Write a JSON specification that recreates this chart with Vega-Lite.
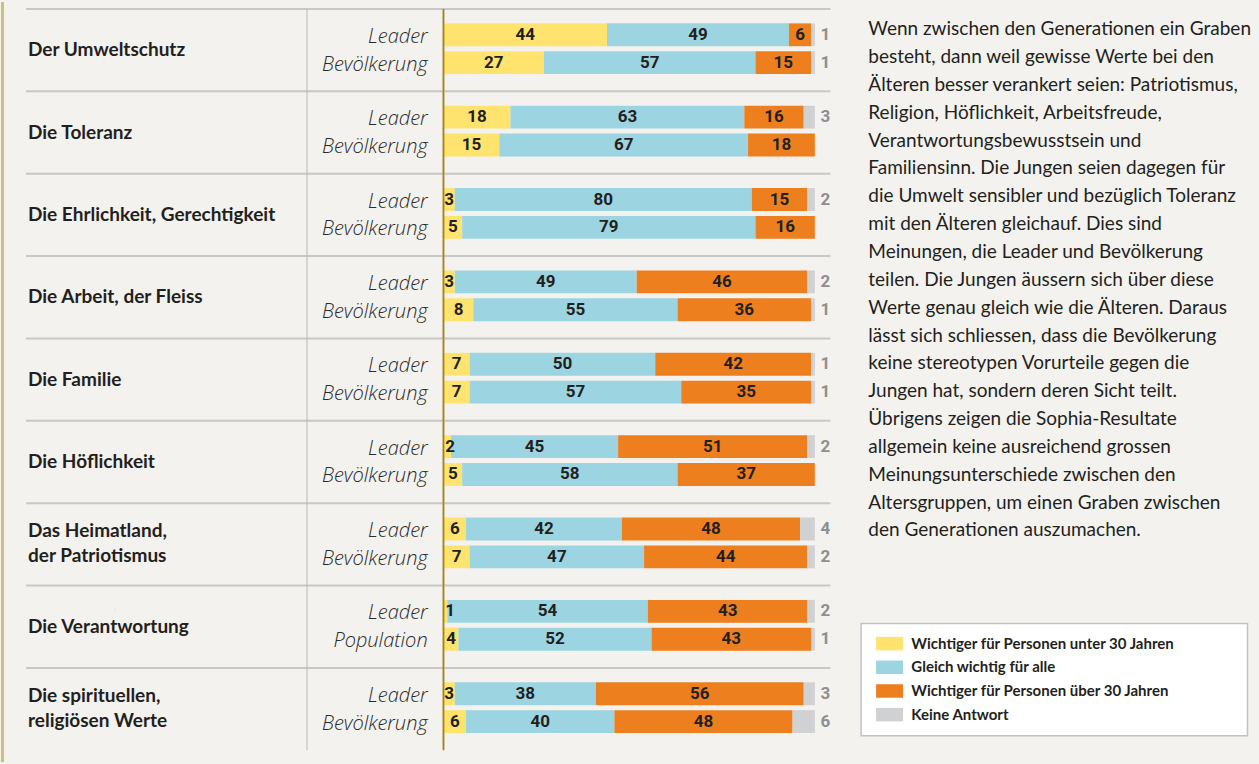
{
  "$schema": "https://vega.github.io/schema/vega-lite/v6.json",
  "width": 1259,
  "height": 764,
  "autosize": {"type": "fit", "contains": "padding"},
  "padding": 0,
  "background": "#f3f2ee",
  "config": {"view": {"stroke": null}},
  "datasets": {
    "cats": [
      {"cat": "Der Umweltschutz"},
      {"cat": "Die Toleranz"},
      {"cat": "Die Ehrlichkeit, Gerechtigkeit"},
      {"cat": "Die Arbeit, der Fleiss"},
      {"cat": "Die Familie"},
      {"cat": "Die Höflichkeit"},
      {"cat": "Das Heimatland,\nder Patriotismus"},
      {"cat": "Die Verantwortung"},
      {"cat": "Die spirituellen,\nreligiösen Werte"}
    ],
    "rows": [
      {"cat": "Der Umweltschutz", "grp": "L", "lab": "Leader"},
      {"cat": "Der Umweltschutz", "grp": "B", "lab": "Bevölkerung"},
      {"cat": "Die Toleranz", "grp": "L", "lab": "Leader"},
      {"cat": "Die Toleranz", "grp": "B", "lab": "Bevölkerung"},
      {"cat": "Die Ehrlichkeit, Gerechtigkeit", "grp": "L", "lab": "Leader"},
      {"cat": "Die Ehrlichkeit, Gerechtigkeit", "grp": "B", "lab": "Bevölkerung"},
      {"cat": "Die Arbeit, der Fleiss", "grp": "L", "lab": "Leader"},
      {"cat": "Die Arbeit, der Fleiss", "grp": "B", "lab": "Bevölkerung"},
      {"cat": "Die Familie", "grp": "L", "lab": "Leader"},
      {"cat": "Die Familie", "grp": "B", "lab": "Bevölkerung"},
      {"cat": "Die Höflichkeit", "grp": "L", "lab": "Leader"},
      {"cat": "Die Höflichkeit", "grp": "B", "lab": "Bevölkerung"},
      {"cat": "Das Heimatland,\nder Patriotismus", "grp": "L", "lab": "Leader"},
      {"cat": "Das Heimatland,\nder Patriotismus", "grp": "B", "lab": "Bevölkerung"},
      {"cat": "Die Verantwortung", "grp": "L", "lab": "Leader"},
      {"cat": "Die Verantwortung", "grp": "B", "lab": "Population"},
      {"cat": "Die spirituellen,\nreligiösen Werte", "grp": "L", "lab": "Leader"},
      {"cat": "Die spirituellen,\nreligiösen Werte", "grp": "B", "lab": "Bevölkerung"}
    ],
    "bars": [
      {"cat": "Der Umweltschutz", "grp": "L", "k": 1, "value": 44},
      {"cat": "Der Umweltschutz", "grp": "L", "k": 2, "value": 49},
      {"cat": "Der Umweltschutz", "grp": "L", "k": 3, "value": 6},
      {"cat": "Der Umweltschutz", "grp": "L", "k": 4, "value": 1},
      {"cat": "Der Umweltschutz", "grp": "B", "k": 1, "value": 27},
      {"cat": "Der Umweltschutz", "grp": "B", "k": 2, "value": 57},
      {"cat": "Der Umweltschutz", "grp": "B", "k": 3, "value": 15},
      {"cat": "Der Umweltschutz", "grp": "B", "k": 4, "value": 1},
      {"cat": "Die Toleranz", "grp": "L", "k": 1, "value": 18},
      {"cat": "Die Toleranz", "grp": "L", "k": 2, "value": 63},
      {"cat": "Die Toleranz", "grp": "L", "k": 3, "value": 16},
      {"cat": "Die Toleranz", "grp": "L", "k": 4, "value": 3},
      {"cat": "Die Toleranz", "grp": "B", "k": 1, "value": 15},
      {"cat": "Die Toleranz", "grp": "B", "k": 2, "value": 67},
      {"cat": "Die Toleranz", "grp": "B", "k": 3, "value": 18},
      {"cat": "Die Toleranz", "grp": "B", "k": 4, "value": 0},
      {"cat": "Die Ehrlichkeit, Gerechtigkeit", "grp": "L", "k": 1, "value": 3},
      {"cat": "Die Ehrlichkeit, Gerechtigkeit", "grp": "L", "k": 2, "value": 80},
      {"cat": "Die Ehrlichkeit, Gerechtigkeit", "grp": "L", "k": 3, "value": 15},
      {"cat": "Die Ehrlichkeit, Gerechtigkeit", "grp": "L", "k": 4, "value": 2},
      {"cat": "Die Ehrlichkeit, Gerechtigkeit", "grp": "B", "k": 1, "value": 5},
      {"cat": "Die Ehrlichkeit, Gerechtigkeit", "grp": "B", "k": 2, "value": 79},
      {"cat": "Die Ehrlichkeit, Gerechtigkeit", "grp": "B", "k": 3, "value": 16},
      {"cat": "Die Ehrlichkeit, Gerechtigkeit", "grp": "B", "k": 4, "value": 0},
      {"cat": "Die Arbeit, der Fleiss", "grp": "L", "k": 1, "value": 3},
      {"cat": "Die Arbeit, der Fleiss", "grp": "L", "k": 2, "value": 49},
      {"cat": "Die Arbeit, der Fleiss", "grp": "L", "k": 3, "value": 46},
      {"cat": "Die Arbeit, der Fleiss", "grp": "L", "k": 4, "value": 2},
      {"cat": "Die Arbeit, der Fleiss", "grp": "B", "k": 1, "value": 8},
      {"cat": "Die Arbeit, der Fleiss", "grp": "B", "k": 2, "value": 55},
      {"cat": "Die Arbeit, der Fleiss", "grp": "B", "k": 3, "value": 36},
      {"cat": "Die Arbeit, der Fleiss", "grp": "B", "k": 4, "value": 1},
      {"cat": "Die Familie", "grp": "L", "k": 1, "value": 7},
      {"cat": "Die Familie", "grp": "L", "k": 2, "value": 50},
      {"cat": "Die Familie", "grp": "L", "k": 3, "value": 42},
      {"cat": "Die Familie", "grp": "L", "k": 4, "value": 1},
      {"cat": "Die Familie", "grp": "B", "k": 1, "value": 7},
      {"cat": "Die Familie", "grp": "B", "k": 2, "value": 57},
      {"cat": "Die Familie", "grp": "B", "k": 3, "value": 35},
      {"cat": "Die Familie", "grp": "B", "k": 4, "value": 1},
      {"cat": "Die Höflichkeit", "grp": "L", "k": 1, "value": 2},
      {"cat": "Die Höflichkeit", "grp": "L", "k": 2, "value": 45},
      {"cat": "Die Höflichkeit", "grp": "L", "k": 3, "value": 51},
      {"cat": "Die Höflichkeit", "grp": "L", "k": 4, "value": 2},
      {"cat": "Die Höflichkeit", "grp": "B", "k": 1, "value": 5},
      {"cat": "Die Höflichkeit", "grp": "B", "k": 2, "value": 58},
      {"cat": "Die Höflichkeit", "grp": "B", "k": 3, "value": 37},
      {"cat": "Die Höflichkeit", "grp": "B", "k": 4, "value": 0},
      {"cat": "Das Heimatland,\nder Patriotismus", "grp": "L", "k": 1, "value": 6},
      {"cat": "Das Heimatland,\nder Patriotismus", "grp": "L", "k": 2, "value": 42},
      {"cat": "Das Heimatland,\nder Patriotismus", "grp": "L", "k": 3, "value": 48},
      {"cat": "Das Heimatland,\nder Patriotismus", "grp": "L", "k": 4, "value": 4},
      {"cat": "Das Heimatland,\nder Patriotismus", "grp": "B", "k": 1, "value": 7},
      {"cat": "Das Heimatland,\nder Patriotismus", "grp": "B", "k": 2, "value": 47},
      {"cat": "Das Heimatland,\nder Patriotismus", "grp": "B", "k": 3, "value": 44},
      {"cat": "Das Heimatland,\nder Patriotismus", "grp": "B", "k": 4, "value": 2},
      {"cat": "Die Verantwortung", "grp": "L", "k": 1, "value": 1},
      {"cat": "Die Verantwortung", "grp": "L", "k": 2, "value": 54},
      {"cat": "Die Verantwortung", "grp": "L", "k": 3, "value": 43},
      {"cat": "Die Verantwortung", "grp": "L", "k": 4, "value": 2},
      {"cat": "Die Verantwortung", "grp": "B", "k": 1, "value": 4},
      {"cat": "Die Verantwortung", "grp": "B", "k": 2, "value": 52},
      {"cat": "Die Verantwortung", "grp": "B", "k": 3, "value": 43},
      {"cat": "Die Verantwortung", "grp": "B", "k": 4, "value": 1},
      {"cat": "Die spirituellen,\nreligiösen Werte", "grp": "L", "k": 1, "value": 3},
      {"cat": "Die spirituellen,\nreligiösen Werte", "grp": "L", "k": 2, "value": 38},
      {"cat": "Die spirituellen,\nreligiösen Werte", "grp": "L", "k": 3, "value": 56},
      {"cat": "Die spirituellen,\nreligiösen Werte", "grp": "L", "k": 4, "value": 3},
      {"cat": "Die spirituellen,\nreligiösen Werte", "grp": "B", "k": 1, "value": 6},
      {"cat": "Die spirituellen,\nreligiösen Werte", "grp": "B", "k": 2, "value": 40},
      {"cat": "Die spirituellen,\nreligiösen Werte", "grp": "B", "k": 3, "value": 48},
      {"cat": "Die spirituellen,\nreligiösen Werte", "grp": "B", "k": 4, "value": 6}
    ],
    "para": [
      {"i": 0, "t": "Wenn zwischen den Generationen ein Graben"},
      {"i": 1, "t": "besteht, dann weil gewisse Werte bei den"},
      {"i": 2, "t": "Älteren besser verankert seien: Patriotismus,"},
      {"i": 3, "t": "Religion, Höflichkeit, Arbeitsfreude,"},
      {"i": 4, "t": "Verantwortungsbewusstsein und"},
      {"i": 5, "t": "Familiensinn. Die Jungen seien dagegen für"},
      {"i": 6, "t": "die Umwelt sensibler und bezüglich Toleranz"},
      {"i": 7, "t": "mit den Älteren gleichauf. Dies sind"},
      {"i": 8, "t": "Meinungen, die Leader und Bevölkerung"},
      {"i": 9, "t": "teilen. Die Jungen äussern sich über diese"},
      {"i": 10, "t": "Werte genau gleich wie die Älteren. Daraus"},
      {"i": 11, "t": "lässt sich schliessen, dass die Bevölkerung"},
      {"i": 12, "t": "keine stereotypen Vorurteile gegen die"},
      {"i": 13, "t": "Jungen hat, sondern deren Sicht teilt."},
      {"i": 14, "t": "Übrigens zeigen die Sophia-Resultate"},
      {"i": 15, "t": "allgemein keine ausreichend grossen"},
      {"i": 16, "t": "Meinungsunterschiede zwischen den"},
      {"i": 17, "t": "Altersgruppen, um einen Graben zwischen"},
      {"i": 18, "t": "den Generationen auszumachen."}
    ],
    "legend": [
      {"k": 1, "label": "Wichtiger für Personen unter 30 Jahren"},
      {"k": 2, "label": "Gleich wichtig für alle"},
      {"k": 3, "label": "Wichtiger für Personen über 30 Jahren"},
      {"k": 4, "label": "Keine Antwort"}
    ]
  },
  "layer": [
    {
      "layer": [
        {
          "data": {"values": [{}]},
          "mark": {"type": "rule", "color": "#cdbf7c", "strokeWidth": 3},
          "encoding": {
            "x": {"datum": -118.85, "type": "quantitative", "scale": {"domain": [-119.25, 219.65], "nice": false, "zero": false}, "axis": null}
          }
        },
        {
          "data": {"name": "cats"},
          "mark": {"type": "rule", "color": "#c8c8c8", "strokeWidth": 2},
          "encoding": {
            "x": {"datum": -112.5, "type": "quantitative", "scale": {"domain": [-119.25, 219.65], "nice": false, "zero": false}, "axis": null},
            "x2": {"datum": 104.2},
            "y": {"field": "cat", "type": "nominal", "bandPosition": 0, "axis": null, "sort": null,
                  "scale": {"domain": ["Der Umweltschutz", "Die Toleranz", "Die Ehrlichkeit, Gerechtigkeit", "Die Arbeit, der Fleiss", "Die Familie", "Die Höflichkeit", "Das Heimatland,\nder Patriotismus", "Die Verantwortung", "Die spirituellen,\nreligiösen Werte"], "paddingInner": 0, "paddingOuter": 0.1135, "align": 0.372}}
          }
        },
        {
          "data": {"name": "cats"},
          "mark": {"type": "bar", "color": "#b8b8b8"},
          "encoding": {
            "x": {"datum": -36.95, "type": "quantitative", "scale": {"domain": [-119.25, 219.65], "nice": false, "zero": false}, "axis": null},
            "x2": {"datum": -36.68},
            "y": {"field": "cat", "type": "nominal", "axis": null, "sort": null}
          }
        },
        {
          "data": {"name": "cats"},
          "transform": [{"filter": "indexof(datum.cat, '\\n') < 0"}],
          "mark": {"type": "text", "align": "left", "baseline": "middle", "font": "Lato", "fontWeight": "bold", "fontSize": 19, "color": "#231f20"},
          "encoding": {
            "x": {"datum": -111.98, "type": "quantitative", "scale": {"domain": [-119.25, 219.65], "nice": false, "zero": false}, "axis": null},
            "y": {"field": "cat", "type": "nominal", "axis": null, "sort": null},
            "text": {"field": "cat"}
          }
        },
        {
          "data": {"name": "cats"},
          "transform": [{"filter": "indexof(datum.cat, '\\n') >= 0"}],
          "mark": {"type": "text", "align": "left", "baseline": "middle", "font": "Lato", "fontWeight": "bold", "fontSize": 19, "color": "#231f20", "lineBreak": "\n", "lineHeight": 25, "dy": -13},
          "encoding": {
            "x": {"datum": -111.98, "type": "quantitative", "scale": {"domain": [-119.25, 219.65], "nice": false, "zero": false}, "axis": null},
            "y": {"field": "cat", "type": "nominal", "axis": null, "sort": null},
            "text": {"field": "cat"}
          }
        },
        {
          "data": {"name": "rows"},
          "mark": {"type": "text", "align": "right", "baseline": "middle", "font": "Open Sans", "fontStyle": "italic", "fontWeight": 300, "fontSize": 20, "color": "#2a2a2a", "dy": 2},
          "encoding": {
            "x": {"datum": -4.31, "type": "quantitative", "scale": {"domain": [-119.25, 219.65], "nice": false, "zero": false}, "axis": null},
            "y": {"field": "cat", "type": "nominal", "axis": null, "sort": null},
            "yOffset": {"field": "grp", "type": "nominal", "sort": null, "scale": {"domain": ["L", "B"], "paddingInner": 0.18, "paddingOuter": 0.5686, "align": 0.455}},
            "text": {"field": "lab"}
          }
        },
        {
          "data": {"name": "bars"},
          "mark": {"type": "bar"},
          "encoding": {
            "x": {"field": "value", "type": "quantitative", "stack": "zero", "scale": {"domain": [-119.25, 219.65], "nice": false, "zero": false}, "axis": null},
            "y": {"field": "cat", "type": "nominal", "axis": null, "sort": null},
            "yOffset": {"field": "grp", "type": "nominal", "sort": null, "scale": {"domain": ["L", "B"], "paddingInner": 0.18, "paddingOuter": 0.5686, "align": 0.455}},
            "color": {"field": "k", "type": "nominal", "legend": null, "scale": {"domain": [1, 2, 3, 4], "range": ["#fee46f", "#9cd5e1", "#ee7f1f", "#d0d1d3"]}},
            "order": {"field": "k", "type": "quantitative"}
          }
        },
        {
          "data": {"name": "cats"},
          "mark": {"type": "bar", "color": "#a6821e"},
          "encoding": {
            "x": {"datum": -0.3, "type": "quantitative", "scale": {"domain": [-119.25, 219.65], "nice": false, "zero": false}, "axis": null},
            "x2": {"datum": 0.2},
            "y": {"field": "cat", "type": "nominal", "axis": null, "sort": null}
          }
        },
        {
          "data": {"name": "bars"},
          "transform": [{"filter": "datum.k < 4 && datum.value > 0"}],
          "mark": {"type": "text", "baseline": "middle", "font": "Roboto", "fontWeight": "bold", "fontSize": 17, "color": "#231f20"},
          "encoding": {
            "x": {"field": "value", "type": "quantitative", "stack": "zero", "bandPosition": 0.5, "scale": {"domain": [-119.25, 219.65], "nice": false, "zero": false}, "axis": null},
            "y": {"field": "cat", "type": "nominal", "axis": null, "sort": null},
            "yOffset": {"field": "grp", "type": "nominal", "sort": null, "scale": {"domain": ["L", "B"], "paddingInner": 0.18, "paddingOuter": 0.5686, "align": 0.455}},
            "detail": {"field": "k", "type": "nominal"},
            "order": {"field": "k", "type": "quantitative"},
            "opacity": {"condition": {"test": "datum.k == 1 && datum.value < 3", "value": 0}, "value": 1},
            "text": {"field": "value", "type": "quantitative"}
          }
        },
        {
          "data": {"name": "bars"},
          "transform": [{"filter": "datum.k == 1 && datum.value > 0 && datum.value < 3"}],
          "mark": {"type": "text", "align": "left", "baseline": "middle", "font": "Roboto", "fontWeight": "bold", "fontSize": 17, "color": "#231f20"},
          "encoding": {
            "x": {"datum": 0.4, "type": "quantitative", "scale": {"domain": [-119.25, 219.65], "nice": false, "zero": false}, "axis": null},
            "y": {"field": "cat", "type": "nominal", "axis": null, "sort": null},
            "yOffset": {"field": "grp", "type": "nominal", "sort": null, "scale": {"domain": ["L", "B"], "paddingInner": 0.18, "paddingOuter": 0.5686, "align": 0.455}},
            "text": {"field": "value", "type": "quantitative"}
          }
        },
        {
          "data": {"name": "bars"},
          "transform": [{"filter": "datum.k == 4 && datum.value > 0"}],
          "mark": {"type": "text", "align": "left", "baseline": "middle", "font": "Roboto", "fontWeight": "bold", "fontSize": 17, "color": "#8e8f91"},
          "encoding": {
            "x": {"datum": 101.5, "type": "quantitative", "scale": {"domain": [-119.25, 219.65], "nice": false, "zero": false}, "axis": null},
            "y": {"field": "cat", "type": "nominal", "axis": null, "sort": null},
            "yOffset": {"field": "grp", "type": "nominal", "sort": null, "scale": {"domain": ["L", "B"], "paddingInner": 0.18, "paddingOuter": 0.5686, "align": 0.455}},
            "text": {"field": "value", "type": "quantitative"}
          }
        }
      ]
    },
    {
      "data": {"name": "para"},
      "mark": {"type": "text", "align": "left", "baseline": "alphabetic", "font": "Lato", "fontSize": 19, "color": "#231f20"},
      "encoding": {
        "x": {"datum": 114.4, "type": "quantitative", "scale": {"domain": [-119.25, 219.65], "nice": false, "zero": false}, "axis": null},
        "y": {"field": "i", "type": "quantitative", "axis": null, "scale": {"domain": [-1.189, 26.096], "reverse": true, "nice": false, "zero": false}},
        "text": {"field": "t"}
      }
    },
    {
      "layer": [
        {
          "data": {"values": [{}]},
          "mark": {"type": "rect", "fill": "#ffffff", "stroke": "#c2c2c2", "strokeWidth": 1.5},
          "encoding": {
            "x": {"datum": 112.46, "type": "quantitative", "scale": {"domain": [-119.25, 219.65], "nice": false, "zero": false}, "axis": null},
            "x2": {"datum": 216.55},
            "y": {"datum": 0.147, "type": "quantitative", "axis": null, "scale": {"domain": [-26.101, 6.0], "reverse": true, "nice": false, "zero": false}},
            "y2": {"datum": 4.895}
          }
        },
        {
          "data": {"name": "legend"},
          "mark": {"type": "point", "shape": "M-1,-0.5H1V0.5H-1Z", "filled": true, "opacity": 1, "size": 729, "strokeWidth": 0},
          "encoding": {
            "x": {"datum": 120.13, "type": "quantitative", "scale": {"domain": [-119.25, 219.65], "nice": false, "zero": false}, "axis": null},
            "y": {"field": "k", "type": "quantitative", "axis": null, "scale": {"domain": [-26.101, 6.0], "reverse": true, "nice": false, "zero": false}},
            "color": {"field": "k", "type": "nominal", "legend": null}
          }
        },
        {
          "data": {"name": "legend"},
          "mark": {"type": "text", "align": "left", "baseline": "middle", "font": "Lato", "fontWeight": "bold", "fontSize": 15, "color": "#231f20"},
          "encoding": {
            "x": {"datum": 125.98, "type": "quantitative", "scale": {"domain": [-119.25, 219.65], "nice": false, "zero": false}, "axis": null},
            "y": {"field": "k", "type": "quantitative", "axis": null, "scale": {"domain": [-26.101, 6.0], "reverse": true, "nice": false, "zero": false}},
            "text": {"field": "label"}
          }
        }
      ]
    }
  ],
  "resolve": {"scale": {"y": "independent"}}
}
